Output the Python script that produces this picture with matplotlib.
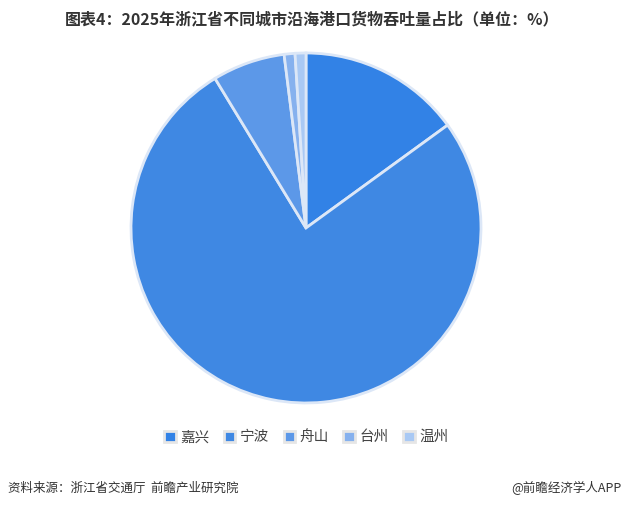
import matplotlib.pyplot as plt
from matplotlib.patches import Patch

plt.rcParams['font.family'] = ['Noto Sans CJK SC', 'DejaVu Sans']

cities = ['嘉兴', '宁波', '舟山', '台州', '温州']
shares = [15.0, 76.3, 6.7, 1.0, 1.0]
colors = ['#3282e6', '#3f88e3', '#5c98e8', '#86b1ee', '#a9c9f4']

fig = plt.figure(figsize=(6.25, 5.09), dpi=100)
fig.patch.set_facecolor('white')

ax = fig.add_axes([0.2096, 0.2083, 0.56, 0.6876])
ax.pie(shares, colors=colors, startangle=90, counterclock=False,
       radius=1.0, wedgeprops=dict(edgecolor='#dce7f7', linewidth=2))
ax.set_xlim(-1.0, 1.0)
ax.set_ylim(-1.0, 1.0)
ax.set_aspect('equal')
ax.axis('off')

fig.text(0.5, 0.962, '图表4：2025年浙江省不同城市沿海港口货物吞吐量占比（单位：%）',
         ha='center', va='center', fontsize=11.5, fontweight='bold', color='#333333')

handles = [Patch(facecolor=c, edgecolor='#e6e6e6', linewidth=2) for c in colors]
fig.legend(handles, cities, loc='center', bbox_to_anchor=(0.49, 0.141), ncol=5,
           frameon=False, fontsize=10.5, handlelength=0.8, handleheight=0.8,
           handletextpad=0.3, columnspacing=1.0, labelcolor='#444444')

fig.text(0.013, 0.041, '资料来源：浙江省交通厅  前瞻产业研究院', ha='left', va='center',
         fontsize=9, color='#333333')
fig.text(0.995, 0.041, '@前瞻经济学人APP', ha='right', va='center',
         fontsize=9, color='#333333')

fig.savefig('out.png', dpi=100)
